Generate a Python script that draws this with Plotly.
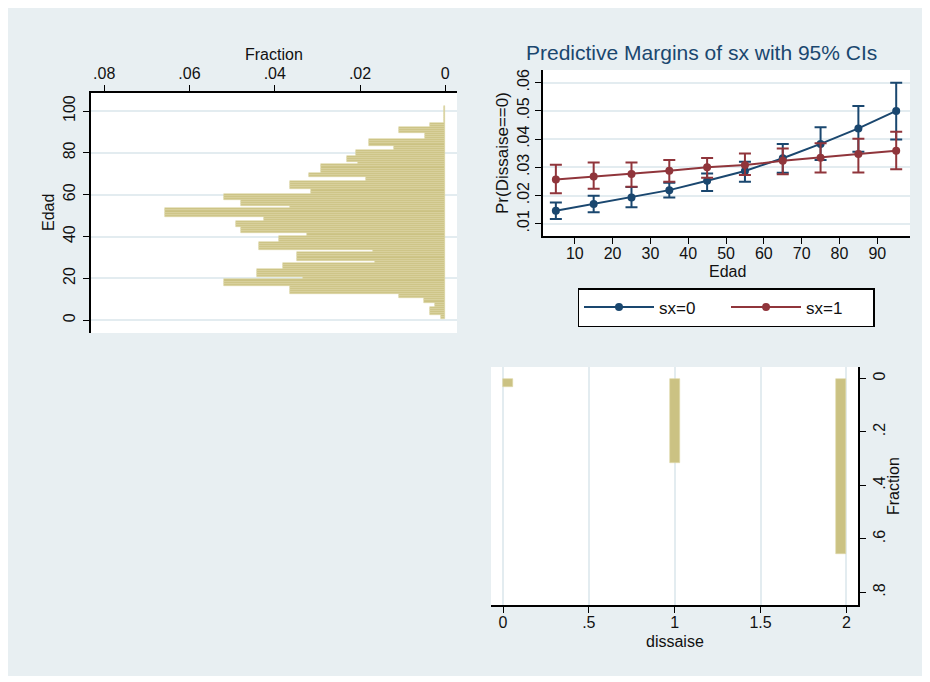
import plotly.graph_objects as go

# ---------------- data ----------------
# Left: histogram of Edad (fraction per 1-year age bar)
edad_ages = list(range(1, 103))
edad_fraction = [
    0.001, 0.001,                          # 1-2
    0.0037, 0.0037, 0.0037, 0.0037,        # 3-6
    0.0024, 0.0024,                        # 7-8
    0.0049, 0.0049,                        # 9-10
    0.0108, 0.0108,                        # 11-12
    0.0364, 0.0364, 0.0364, 0.0364,        # 13-16
    0.0519, 0.0519, 0.0519,                # 17-19
    0.0333,                                # 20
    0.0441, 0.0441, 0.0441, 0.0441,        # 21-24
    0.038, 0.038, 0.038,                   # 25-27
    0.0165,                                # 28
    0.0347, 0.0347, 0.0347, 0.0347,        # 29-32
    0.017,                                 # 33
    0.0436, 0.0436, 0.0436, 0.0436,        # 34-37
    0.0391, 0.0391, 0.0391,                # 38-40
    0.0325,                                # 41
    0.048, 0.048, 0.048,                   # 42-44
    0.0492, 0.0492, 0.0492,                # 45-47
    0.0425, 0.0425,                        # 48-49
    0.0657, 0.0657, 0.0657, 0.0657,        # 50-53
    0.0364,                                # 54
    0.048, 0.048, 0.048,                   # 55-57
    0.0519, 0.0519, 0.0519,                # 58-60
    0.0315, 0.0315,                        # 61-62
    0.0364, 0.0364, 0.0364, 0.0364,        # 63-66
    0.0187, 0.0187,                        # 67-68
    0.0319, 0.0319,                        # 69-70
    0.0291, 0.0291, 0.0291, 0.0291,        # 71-74
    0.0204,                                # 75
    0.0231, 0.0231, 0.0231,                # 76-78
    0.021, 0.021, 0.021,                   # 79-81
    0.0121, 0.0121,                        # 82-83
    0.018, 0.018, 0.018,                   # 84-86
    0.0047, 0.0047, 0.0047,                # 87-89
    0.0108, 0.0108, 0.0108,                # 90-92
    0.0037, 0.0037,                        # 93-94
    0.0004, 0.0004, 0.0004, 0.0004,        # 95-98
    0.0004, 0.0004, 0.0004, 0.0004,        # 99-102
]

# Top right: predictive margins
edad_points = [5, 15, 25, 35, 45, 55, 65, 75, 85, 95]
sx0_margin = [0.0146, 0.0170, 0.0193, 0.0219, 0.0252, 0.0287, 0.0332, 0.0383, 0.0438, 0.0500]
sx0_low    = [0.0117, 0.0141, 0.0158, 0.0193, 0.0216, 0.0249, 0.0281, 0.0326, 0.0355, 0.0399]
sx0_high   = [0.0175, 0.0199, 0.0230, 0.0245, 0.0278, 0.0320, 0.0383, 0.0442, 0.0517, 0.0600]
sx1_margin = [0.0257, 0.0267, 0.0276, 0.0288, 0.0300, 0.0308, 0.0323, 0.0334, 0.0347, 0.0359]
sx1_low    = [0.0208, 0.0224, 0.0231, 0.0249, 0.0263, 0.0273, 0.0275, 0.0282, 0.0282, 0.0293]
sx1_high   = [0.0309, 0.0317, 0.0317, 0.0326, 0.0333, 0.0349, 0.0367, 0.0385, 0.0401, 0.0426]

# Bottom right: histogram of dissaise
dissaise_values = [0, 1, 2]
dissaise_fraction = [0.03, 0.315, 0.655]

# tick labels
frac_left_ticks = [0, 0.02, 0.04, 0.06, 0.08]
frac_left_labels = ["0", ".02", ".04", ".06", ".08"]
edad_ticks = [0, 20, 40, 60, 80, 100]
margin_x_ticks = [10, 20, 30, 40, 50, 60, 70, 80, 90]
margin_y_ticks = [0.01, 0.02, 0.03, 0.04, 0.05, 0.06]
margin_y_labels = [".01", ".02", ".03", ".04", ".05", ".06"]
dis_x_ticks = [0, 0.5, 1, 1.5, 2]
dis_x_labels = ["0", ".5", "1", "1.5", "2"]
dis_y_ticks = [0, 0.2, 0.4, 0.6, 0.8]
dis_y_labels = ["0", ".2", ".4", ".6", ".8"]

# ---------------- style ----------------
OX, OY = 8, 8          # page offset of the figure (body margin)
W, H = 917, 668
BG = "#e8eff2"
GRID = "#e3ecf0"
BAR = "#cbc283"
BAR_LINE = "#ddd7a6"
NAVY = "#1a476f"
MAROON = "#90353b"
FONT = "Liberation Sans"
TXT = "#111111"

def px(x):
    return (x - OX) / W

def py(y):
    return 1 - (y - OY) / H

fig = go.Figure()

# left histogram (horizontal bars)
fig.add_trace(go.Bar(
    y=edad_ages, x=edad_fraction, orientation="h", width=1,
    marker=dict(color=BAR, line=dict(color=BAR_LINE, width=0.6)),
    xaxis="x", yaxis="y", showlegend=False, hoverinfo="skip"))

# margins
fig.add_trace(go.Scatter(
    x=edad_points, y=sx0_margin, mode="lines+markers", name="sx=0",
    line=dict(color=NAVY, width=2), marker=dict(color=NAVY, size=8, symbol="circle"),
    error_y=dict(type="data", symmetric=False,
                 array=[h - m for h, m in zip(sx0_high, sx0_margin)],
                 arrayminus=[m - l for m, l in zip(sx0_margin, sx0_low)],
                 color=NAVY, thickness=2, width=6),
    xaxis="x2", yaxis="y2"))
fig.add_trace(go.Scatter(
    x=edad_points, y=sx1_margin, mode="lines+markers", name="sx=1",
    line=dict(color=MAROON, width=2), marker=dict(color=MAROON, size=8, symbol="circle"),
    error_y=dict(type="data", symmetric=False,
                 array=[h - m for h, m in zip(sx1_high, sx1_margin)],
                 arrayminus=[m - l for m, l in zip(sx1_margin, sx1_low)],
                 color=MAROON, thickness=2, width=6),
    xaxis="x2", yaxis="y2"))

# bottom right histogram
bin_w = 0.06
dis_lo, dis_hi = 0, 2
dis_centers = [min(max(v, dis_lo + bin_w / 2), dis_hi - bin_w / 2) for v in dissaise_values]
fig.add_trace(go.Bar(
    x=dis_centers, y=dissaise_fraction, base=0, width=bin_w,
    marker=dict(color=BAR, line=dict(color=BAR_LINE, width=0.6)),
    xaxis="x3", yaxis="y3", showlegend=False, hoverinfo="skip"))

axis_common = dict(
    showline=True, linecolor="black", linewidth=1.6,
    ticks="outside", ticklen=6, tickwidth=1.4, tickcolor="black",
    zeroline=False, automargin=False,
    tickfont=dict(family=FONT, size=16, color=TXT),
)

fig.update_layout(
    width=W, height=H,
    margin=dict(l=0, r=0, t=0, b=0),
    paper_bgcolor=BG, plot_bgcolor="white",
    bargap=0,
    xaxis=dict(**axis_common, domain=[px(91), px(457)], anchor="y", side="top",
               range=[0.0831, -0.00275], tickvals=frac_left_ticks, ticktext=frac_left_labels,
               showgrid=False),
    yaxis=dict(**axis_common, domain=[py(333), py(93)], anchor="x",
               range=[-6.07, 108.6], tickvals=edad_ticks, tickangle=-90,
               showgrid=True, gridcolor=GRID, gridwidth=2, ticklabelstandoff=2),
    xaxis2=dict(**axis_common, domain=[px(543), px(910)], anchor="y2",
                range=[1.6, 98.65], tickvals=margin_x_ticks, showgrid=False,
                ticklabelstandoff=-4),
    yaxis2=dict(**axis_common, domain=[py(236), py(70)], anchor="x2",
                range=[0.00564, 0.0645], tickvals=margin_y_ticks, ticktext=margin_y_labels,
                tickangle=-90, showgrid=True, gridcolor=GRID, gridwidth=2),
    xaxis3=dict(**axis_common, domain=[px(491), px(858)], anchor="y3",
                range=[-0.07, 2.068], tickvals=dis_x_ticks, ticktext=dis_x_labels,
                showgrid=True, gridcolor=GRID, gridwidth=2, ticklabelstandoff=-4),
    yaxis3=dict(**axis_common, domain=[py(605), py(367)], anchor="x3", side="right",
                range=[0.847, -0.043], tickvals=dis_y_ticks, ticktext=dis_y_labels,
                tickangle=-90, showgrid=False),
    legend=dict(orientation="h", x=px(726), y=py(288), xanchor="center", yanchor="top",
                bgcolor="white", bordercolor="black", borderwidth=1.5,
                font=dict(family=FONT, size=17, color=TXT), itemwidth=70,
                entrywidth=62, entrywidthmode="pixels"),
    showlegend=True,
)

def note(text, x, y, size=16, angle=0, color=TXT):
    fig.add_annotation(text=text, x=px(x), y=py(y), xref="paper", yref="paper",
                       showarrow=False, textangle=angle, xanchor="center", yanchor="middle",
                       font=dict(family=FONT, size=size, color=color))

note("Fraction", 274, 54)
note("Edad", 48, 213, angle=-90)
note("Predictive Margins of sx with 95% CIs", 701, 53, size=21, color=NAVY)
note("Edad", 727, 271)
note("Pr(Dissaise==0)", 502, 153, size=17, angle=-90)
note("dissaise", 675, 641)
note("Fraction", 893, 486, angle=-90)

fig.write_html("out.html")
